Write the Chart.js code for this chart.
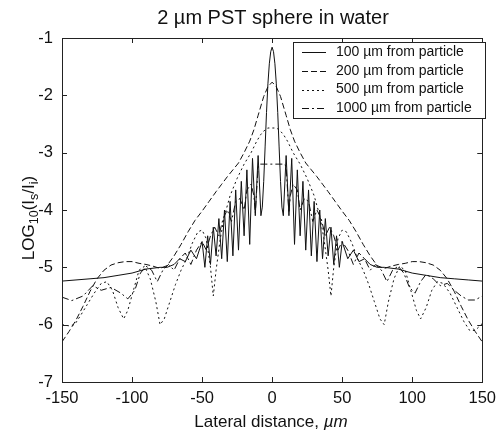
<!DOCTYPE html>
<html>
<head>
<meta charset="utf-8">
<script src="https://cdn.jsdelivr.net/npm/chart.js@4"></script>
<style>
  body { margin: 0; background: #fff; }
  canvas { display: block; }
</style>
</head>
<body>
<canvas id="scatterChart" width="503" height="433"></canvas>
<script>
// Lateral distance (um) and LOG10(Is/Ii), one pair of arrays per distance

// 100 um from particle
const x100 = [-150,-140,-130,-120,-110,-100,-90,-80,-75,-70,-66,-62,-58,-54,-50,-48,-46,-44,-42,-40,-38,-36,-34,-32,-30,-28,-26,-24,-22,-20,-18,-16,-14,-12,-10,-8,-7,-6,-5,-4,-3,-2,-1,
  0,1,2,3,4,5,6,7,8,10,12,14,16,18,20,22,24,26,28,30,32,34,36,38,40,42,44,46,48,50,54,58,62,66,70,75,80,90,100,110,120,130,140,150];
const y100 = [-5.24,-5.22,-5.2,-5.18,-5.14,-5.1,-5.03,-5.0,-5.0,-4.95,-4.85,-4.9,-4.7,-4.85,-4.55,-5.0,-4.45,-4.95,-4.3,-4.8,-4.15,-4.85,-4.0,-4.9,-3.85,-4.8,-3.65,-4.7,-3.5,-4.45,-3.3,-4.6,-3.1,-4.1,-3.05,-4.1,-3.95,-3.5,-2.9,-2.3,-1.8,-1.45,-1.24,
  -1.16,-1.24,-1.45,-1.8,-2.3,-2.9,-3.5,-3.95,-4.1,-3.05,-4.1,-3.1,-4.6,-3.3,-4.45,-3.5,-4.7,-3.65,-4.8,-3.85,-4.9,-4.0,-4.85,-4.15,-4.8,-4.3,-4.95,-4.45,-5.0,-4.55,-4.85,-4.7,-4.9,-4.85,-4.95,-5.0,-5.0,-5.03,-5.1,-5.14,-5.18,-5.2,-5.22,-5.24];

// 200 um from particle
const x200 = [-150,-145,-140,-135,-130,-125,-120,-115,-110,-105,-100,-95,-90,-85,-80,-75,-70,-65,-60,-55,-50,-45,-40,-36,-32,-28,-24,-20,-16,-13,-10,-6,-3,
  0,3,6,10,13,16,20,24,28,32,36,40,45,50,55,60,65,70,75,80,85,90,95,100,105,110,115,120,125,130,135,140,145,150];
const y200 = [-6.3,-6.12,-5.92,-5.68,-5.42,-5.2,-5.05,-4.96,-4.92,-4.9,-4.9,-4.93,-4.95,-4.98,-5.02,-4.97,-4.8,-4.6,-4.38,-4.18,-4.02,-3.85,-3.68,-3.55,-3.42,-3.3,-3.18,-3.0,-2.8,-2.6,-2.35,-2.02,-1.85,
  -1.77,-1.85,-2.02,-2.35,-2.6,-2.8,-3.0,-3.18,-3.3,-3.42,-3.55,-3.68,-3.85,-4.02,-4.18,-4.38,-4.6,-4.8,-4.97,-5.02,-4.98,-4.95,-4.93,-4.9,-4.9,-4.92,-4.96,-5.05,-5.2,-5.42,-5.68,-5.92,-6.12,-6.3];

// 500 um from particle
const x500 = [-150,-145,-141,-137,-132,-127,-122,-118,-114,-110,-106,-103,-99,-95,-91,-87,-83,-80,-77,-73,-69,-65,-61,-57,-53,-50,-47,-44,-42,-40,-37,-34,-30,-25,-20,-15,-11,-8,-5,-3,
  0,3,5,8,11,15,20,25,30,34,37,40,42,44,47,50,53,57,61,65,69,73,77,80,83,87,91,95,99,103,106,110,114,118,122,127,132,137,141,145,150];
const y500 = [-6.0,-6.02,-6.0,-5.85,-5.65,-5.45,-5.28,-5.25,-5.4,-5.7,-5.9,-5.75,-5.4,-5.05,-4.98,-5.2,-5.6,-6.0,-5.9,-5.6,-5.3,-5.05,-4.85,-4.58,-4.38,-4.35,-4.5,-5.0,-5.5,-5.05,-4.5,-4.1,-3.75,-3.45,-3.2,-3.0,-2.8,-2.68,-2.6,-2.57,
  -2.57,-2.57,-2.6,-2.68,-2.8,-3.0,-3.2,-3.45,-3.75,-4.1,-4.5,-5.05,-5.5,-5.0,-4.5,-4.35,-4.38,-4.58,-4.85,-5.05,-5.3,-5.6,-5.9,-6.0,-5.6,-5.2,-4.98,-5.05,-5.4,-5.75,-5.9,-5.7,-5.4,-5.25,-5.28,-5.45,-5.7,-5.95,-6.1,-6.1,-5.98];

// 1000 um from particle
const x1000 = [-150,-143,-135,-128,-122,-115,-108,-103,-98,-94,-90,-86,-82,-78,-74,-70,-66,-62,-58,-54,-50,-47,-44,-41,-38,-35,-32,-29,-26,-23,-20,-18,-15,-13,-12,-11,-10,-9,-5,
  0,5,9,10,11,12,13,15,18,20,23,26,29,32,35,38,41,44,47,50,54,58,62,66,70,74,78,82,86,90,94,98,102,106,110,115,120,125,130,135,140,145,150];
const y1000 = [-5.52,-5.58,-5.5,-5.32,-5.4,-5.35,-5.45,-5.55,-5.4,-5.1,-4.98,-5.05,-5.25,-5.05,-4.95,-5.05,-4.85,-4.75,-4.95,-4.7,-4.55,-4.7,-4.45,-4.3,-4.45,-4.15,-4.0,-4.2,-3.85,-3.8,-4.0,-3.65,-3.55,-3.75,-4.05,-3.65,-3.25,-3.2,-3.2,
  -3.2,-3.2,-3.2,-3.25,-3.65,-4.05,-3.75,-3.55,-3.65,-4.0,-3.8,-3.85,-4.2,-4.0,-4.15,-4.45,-4.3,-4.45,-4.7,-4.55,-4.7,-4.95,-4.75,-4.85,-5.05,-4.95,-5.05,-5.25,-5.05,-4.98,-5.1,-5.35,-5.45,-5.25,-5.12,-5.2,-5.32,-5.28,-5.4,-5.5,-5.57,-5.57,-5.5];

const seriesLabels = ['100 \u00b5m from particle', '200 \u00b5m from particle', '500 \u00b5m from particle', '1000 \u00b5m from particle'];
const xTicks = [-150, -100, -50, 0, 50, 100, 150];
const yTicks = [-7, -6, -5, -4, -3, -2, -1];

const FONT = '"Liberation Sans", Arial, Helvetica, sans-serif';
const INK = '#111';
const dashes = [[], [6, 3], [2, 3], [7, 3, 2, 3]];

function points(xs, ys) {
    return xs.map((x, i) => ({ x: x, y: ys[i] }));
}

const seriesData = [points(x100, y100), points(x200, y200), points(x500, y500), points(x1000, y1000)];

// Box, inward ticks, legend and texts drawn the MATLAB way
const matlabFrame = {
    id: 'matlabFrame',
    afterDatasetsDraw(chart) {
        const ctx = chart.ctx;
        const a = chart.chartArea;
        const xs = chart.scales.x, ys = chart.scales.y;
        ctx.save();
        ctx.strokeStyle = '#222';
        ctx.lineWidth = 1;
        ctx.strokeRect(Math.round(a.left) + 0.5, Math.round(a.top) + 0.5, Math.round(a.width), Math.round(a.height));
        const tl = 5;
        ctx.beginPath();
        xTicks.forEach(v => {
            const px = Math.round(xs.getPixelForValue(v)) + 0.5;
            ctx.moveTo(px, a.bottom); ctx.lineTo(px, a.bottom - tl);
            ctx.moveTo(px, a.top); ctx.lineTo(px, a.top + tl);
        });
        yTicks.forEach(v => {
            const py = Math.round(ys.getPixelForValue(v)) + 0.5;
            ctx.moveTo(a.left, py); ctx.lineTo(a.left + tl, py);
            ctx.moveTo(a.right, py); ctx.lineTo(a.right - tl, py);
        });
        ctx.stroke();

        // legend
        const lx = 293, ly = 42, lw = 192, lh = 76;
        ctx.fillStyle = '#fff';
        ctx.fillRect(lx, ly, lw, lh);
        ctx.strokeStyle = '#222';
        ctx.strokeRect(lx + 0.5, ly + 0.5, lw, lh);
        ctx.font = '14px ' + FONT;
        ctx.textBaseline = 'middle';
        ctx.textAlign = 'left';
        seriesLabels.forEach((label, i) => {
            const ry = ly + 10 + i * 18.8;
            ctx.beginPath();
            ctx.setLineDash(dashes[i]);
            ctx.strokeStyle = INK;
            ctx.moveTo(302, Math.round(ry) + 0.5);
            ctx.lineTo(326, Math.round(ry) + 0.5);
            ctx.stroke();
            ctx.setLineDash([]);
            ctx.fillStyle = INK;
            ctx.fillText(label, 336, ry);
        });

        // title
        ctx.fillStyle = INK;
        ctx.textAlign = 'center';
        ctx.textBaseline = 'alphabetic';
        ctx.font = '20px ' + FONT;
        ctx.fillText('2 \u00b5m PST sphere in water', 273, 24);

        // x axis title, with the unit in italics
        const t1 = 'Lateral distance, ', t2 = '\u00b5m';
        ctx.font = '17px ' + FONT;
        const w1 = ctx.measureText(t1).width;
        ctx.font = 'italic 17px ' + FONT;
        const w2 = ctx.measureText(t2).width;
        let sx = 271 - (w1 + w2) / 2;
        ctx.textAlign = 'left';
        ctx.font = '17px ' + FONT;
        ctx.fillText(t1, sx, 427);
        ctx.font = 'italic 17px ' + FONT;
        ctx.fillText(t2, sx + w1, 427);

        // y axis title LOG10(Is/Ii) with subscripts
        const parts = [['LOG', 0], ['10', 1], ['(I', 0], ['s', 1], ['/I', 0], ['i', 1], [')', 0]];
        const mainF = '17px ' + FONT, subF = '12.5px ' + FONT;
        let total = 0;
        parts.forEach(p => { ctx.font = p[1] ? subF : mainF; total += ctx.measureText(p[0]).width; });
        ctx.translate(34, 218);
        ctx.rotate(-Math.PI / 2);
        let cx = -total / 2;
        parts.forEach(p => {
            ctx.font = p[1] ? subF : mainF;
            ctx.fillText(p[0], cx, p[1] ? 4 : 0);
            cx += ctx.measureText(p[0]).width;
        });
        ctx.restore();
    }
};

const ctx = document.getElementById('scatterChart').getContext('2d');
const chart = new Chart(ctx, {
    type: 'scatter',
    data: {
        datasets: seriesData.map((d, i) => ({
            label: seriesLabels[i],
            data: d,
            showLine: true,
            borderColor: INK,
            borderWidth: 1,
            borderDash: dashes[i],
            pointRadius: 0,
            tension: 0,
            fill: false
        }))
    },
    options: {
        responsive: false,
        animation: false,
        layout: { padding: { top: 38, right: 16, left: 0, bottom: 0 } },
        plugins: {
            legend: { display: false },
            tooltip: { enabled: false },
            title: { display: false }
        },
        scales: {
            x: {
                type: 'linear',
                min: -150,
                max: 150,
                afterBuildTicks: s => { s.ticks = xTicks.map(v => ({ value: v })); },
                ticks: { color: INK, font: { family: FONT, size: 16.5 }, padding: 7, maxRotation: 0 },
                grid: { display: false, drawTicks: false },
                border: { display: false },
                afterFit: s => { s.height = 51; }
            },
            y: {
                type: 'linear',
                min: -7,
                max: -1,
                afterBuildTicks: s => { s.ticks = yTicks.map(v => ({ value: v })); },
                ticks: { color: INK, font: { family: FONT, size: 16.5 }, padding: 9 },
                grid: { display: false, drawTicks: false },
                border: { display: false },
                afterFit: s => { s.width = 62; }
            }
        }
    },
    plugins: [matlabFrame]
});
</script>
</body>
</html>
